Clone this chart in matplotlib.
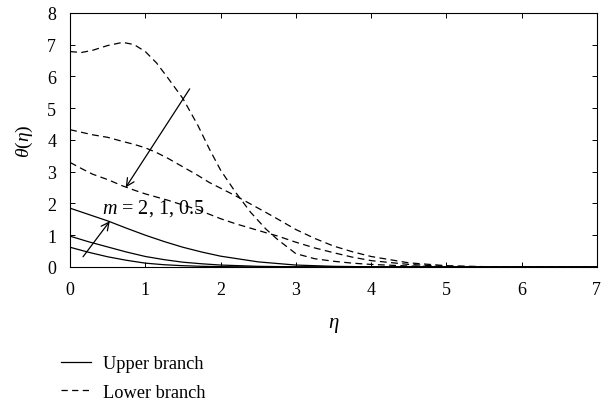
import matplotlib
matplotlib.use("Agg")
import matplotlib.pyplot as plt
from matplotlib.lines import Line2D

plt.rcParams["font.family"] = ["Liberation Serif", "DejaVu Serif"]
plt.rcParams["mathtext.fontset"] = "custom"
plt.rcParams["mathtext.rm"] = "Liberation Serif"
plt.rcParams["mathtext.it"] = "Liberation Serif:italic"

# --- dados ---
# ramo superior (linhas cheias), m = 2, 1, 0.5
eta_up = [0, 0.25, 0.5, 0.75, 1.0, 1.25, 1.5, 1.75, 2.0, 2.5, 3.0, 3.5, 4.0, 5.0, 7.0]
upper_1 = [1.85, 1.65, 1.45, 1.22, 1.0, 0.80, 0.62, 0.47, 0.34, 0.16, 0.06, 0.02, 0.005, 0, 0]
upper_2 = [0.97, 0.79, 0.63, 0.47, 0.33, 0.23, 0.15, 0.10, 0.06, 0.02, 0.005, 0, 0, 0, 0]
upper_3 = [0.62, 0.46, 0.32, 0.21, 0.12, 0.07, 0.04, 0.02, 0.01, 0, 0, 0, 0, 0, 0]

# ramo inferior (tracejado)
eta_low = [0, 0.15, 0.3, 0.5, 0.7, 0.85, 1.0, 1.15, 1.3, 1.5, 1.7, 1.85, 2.0, 2.2, 2.4,
           2.6, 2.75, 3.0, 3.25, 3.5, 3.75, 4.0, 4.5, 5.0, 5.5, 6.0, 7.0]
lower_1 = [6.78, 6.75, 6.82, 6.97, 7.07, 7.0, 6.78, 6.42, 5.95, 5.3, 4.45, 3.72, 3.05, 2.35, 1.72,
           1.2, 0.88, 0.42, 0.26, 0.18, 0.12, 0.08, 0.03, 0.01, 0, 0, 0]
lower_2 = [4.32, 4.24, 4.16, 4.08, 3.95, 3.86, 3.75, 3.6, 3.42, 3.15, 2.88, 2.66, 2.48, 2.24, 1.98,
           1.72, 1.52, 1.18, 0.9, 0.66, 0.48, 0.33, 0.13, 0.04, 0.01, 0, 0]
lower_3 = [3.29, 3.1, 2.92, 2.75, 2.55, 2.42, 2.3, 2.2, 2.1, 1.95, 1.8, 1.66, 1.52, 1.36, 1.22,
           1.08, 0.98, 0.78, 0.6, 0.45, 0.31, 0.2, 0.08, 0.02, 0.005, 0, 0]

fig = plt.figure(figsize=(6.04, 4.06), dpi=100)
ax = fig.add_axes([0.116, 0.340, 0.872, 0.626])

lw = 0.9
dash = (0, (5.5, 3.5))
for y in (upper_1, upper_2, upper_3):
    ax.plot(eta_up, y, color="black", lw=lw)
for y in (lower_1, lower_2, lower_3):
    ax.plot(eta_low, y, color="black", lw=lw, linestyle=dash)

# setas indicando o aumento de m
ax.annotate("", xy=(0.72, 2.43), xytext=(1.61, 5.68),
            arrowprops=dict(arrowstyle="->", color="black", lw=0.9,
                            mutation_scale=14))
ax.annotate("", xy=(0.55, 1.51), xytext=(0.15, 0.25),
            arrowprops=dict(arrowstyle="->", color="black", lw=0.9,
                            mutation_scale=14))
ax.text(0.42, 1.72, r"$m$ = 2, 1, 0.5", fontsize=14.5)

ax.set_xlim(0, 7)
ax.set_ylim(0, 8)
ax.set_xticks(range(0, 8))
ax.set_yticks(range(0, 9))
ax.tick_params(direction="in", top=True, right=True, length=3.5, width=0.7,
               labelsize=13)
ax.tick_params(axis="x", pad=10)
ax.tick_params(axis="y", pad=10)
for s in ax.spines.values():
    s.set_linewidth(0.8)

ax.set_xlabel(r"$\eta$", fontsize=15, labelpad=12)
ax.set_ylabel(r"$\theta(\eta)$", fontsize=14, labelpad=9)

handles = [Line2D([], [], color="black", lw=lw),
           Line2D([], [], color="black", lw=lw, linestyle=(0, (5, 3.5)))]
fig.legend(handles, ["Upper branch", "Lower branch"], loc="lower left",
           bbox_to_anchor=(0.073, -0.03), frameon=False, fontsize=13.2,
           handlelength=1.65, labelspacing=0.62, handletextpad=0.65)

fig.savefig("out.png", dpi=100)
